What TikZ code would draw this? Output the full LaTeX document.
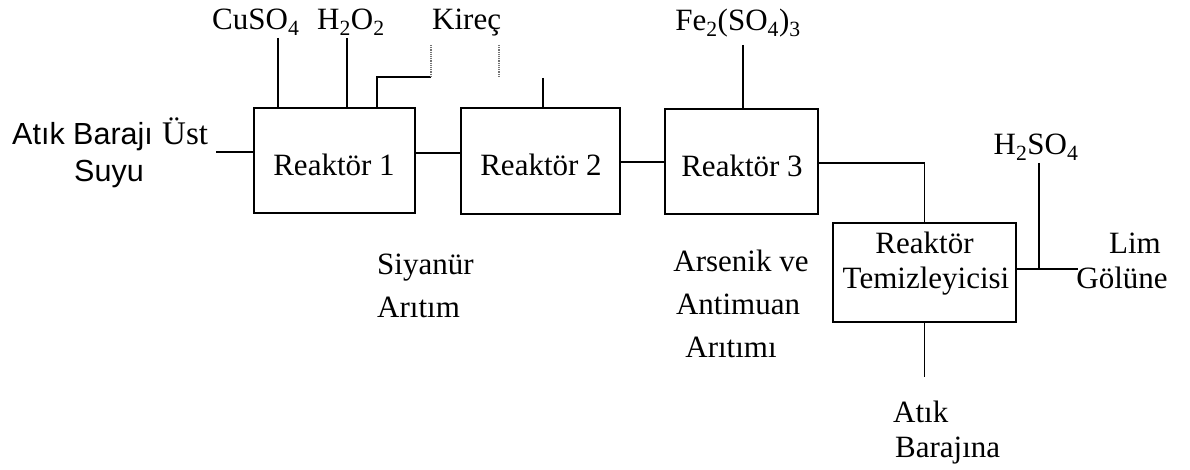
\documentclass[tikz,border=0pt]{standalone}
\usepackage{fontspec}
\setmainfont{Liberation Serif}
\newfontfamily\sansf{Liberation Sans}
\begin{document}
\begin{tikzpicture}[x=1pt,y=-1pt,
  box/.style={draw, line width=1.8pt, rectangle, inner sep=0pt},
  txt/.style={inner sep=0pt, font=\fontsize{31}{35}\selectfont},
  stxt/.style={inner sep=0pt, font=\sansf\fontsize{30.5}{35}\selectfont},
  wire/.style={line width=1.8pt},
  faint/.style={line width=1.2pt, densely dotted, black!55}]
\useasboundingbox (0,0) rectangle (1190,470);

% boxes
\node[box, minimum width=161pt, minimum height=105pt] (r1) at (334.5,160.5) {};
\node[box, minimum width=159pt, minimum height=106pt] (r2) at (540.5,161) {};
\node[box, minimum width=153pt, minimum height=105pt] (r3) at (741.5,161.5) {};
\node[box, minimum width=183pt, minimum height=99pt] (rt) at (924.5,272.5) {};

% box texts
\node[txt, anchor=base] (r1t) at (334,176) {Reaktör 1};
\node[txt, anchor=base] (r2t) at (541,176) {Reaktör 2};
\node[txt, anchor=base] (r3t) at (742,177) {Reaktör 3};
\node[txt, anchor=base] (rta) at (924.5,253) {Reaktör};
\node[txt, anchor=base] (rtb) at (926,288) {Temizleyicisi};

% top labels
\node[txt, anchor=base west] (lcu) at (212,30) {CuSO\textsubscript{4}};
\node[txt, anchor=base west] (lhp) at (317,30) {H\textsubscript{2}O\textsubscript{2}};
\node[txt, anchor=base west] (lki) at (432,30) {Kireç};
\node[txt, anchor=base] (lfe) at (738,31) {Fe\textsubscript{2}(SO\textsubscript{4})\textsubscript{3}};
\node[txt, anchor=base] (lhs) at (1036,155) {H\textsubscript{2}SO\textsubscript{4}};

% side labels
\node[stxt, anchor=base west] (lin) at (12,145) {Atık Barajı};
\node[txt, anchor=base west, font=\fontsize{33}{35}\selectfont] (lust) at (162,145) {Üst};
\node[stxt, anchor=base] (lsu) at (109,182) {Suyu};
\node[txt, anchor=base] (llim) at (1135,253) {Lim};
\node[txt, anchor=base] (lgol) at (1122,288) {Gölüne};
\node[txt, anchor=base west] (lsi1) at (377,274) {Siyanür};
\node[txt, anchor=base west] (lsi2) at (377,317) {Arıtım};
\node[txt, anchor=base] (las1) at (741,271) {Arsenik ve};
\node[txt, anchor=base] (las2) at (738,314) {Antimuan};
\node[txt, anchor=base] (las3) at (731,357) {Arıtımı};
\node[txt, anchor=base west] (lat1) at (893,422) {Atık};
\node[txt, anchor=base west] (lat2) at (895,457) {Barajına};

% coordinates
\coordinate (inL) at (216,152);
\coordinate (j12) at (438,153);
\coordinate (j23) at (642,162);
\coordinate (k3) at (924.5,163);
\coordinate (outB) at (924.5,377);
\coordinate (outL) at (1078,269);
\coordinate (hs) at (1039,163);
\coordinate (cu) at (278,38);
\coordinate (hp) at (347,38);
\coordinate (kb) at (377,77);
\coordinate (kc) at (431,77);
\coordinate (kt) at (431,45);
\coordinate (k2t) at (499,45);
\coordinate (k2b) at (499,78);
\coordinate (k2) at (543,78);
\coordinate (fe) at (743,45);

% connectors
\draw[wire] (inL) -- (inL -| r1.west);
\draw[wire] (j12 -| r1.east) -- (j12 -| r2.west);
\draw[wire] (j23 -| r2.east) -- (j23 -| r3.west);
\draw[wire] (k3 -| r3.east) -- (k3) -- (rt.north);
\draw[wire] (rt.south) -- (outB);
\draw[wire] (outL -| rt.east) -- (outL);
\draw[wire] (hs) -- (hs |- outL);
\draw[wire] (cu) -- (cu |- r1.north);
\draw[wire] (hp) -- (hp |- r1.north);
\draw[wire] (kb |- r1.north) -- (kb) -- (kc);
\draw[faint] (kc) -- (kt);
\draw[faint] (k2t) -- (k2b);
\draw[wire] (k2) -- (k2 |- r2.north);
\draw[wire] (fe) -- (fe |- r3.north);
\end{tikzpicture}
\end{document}
